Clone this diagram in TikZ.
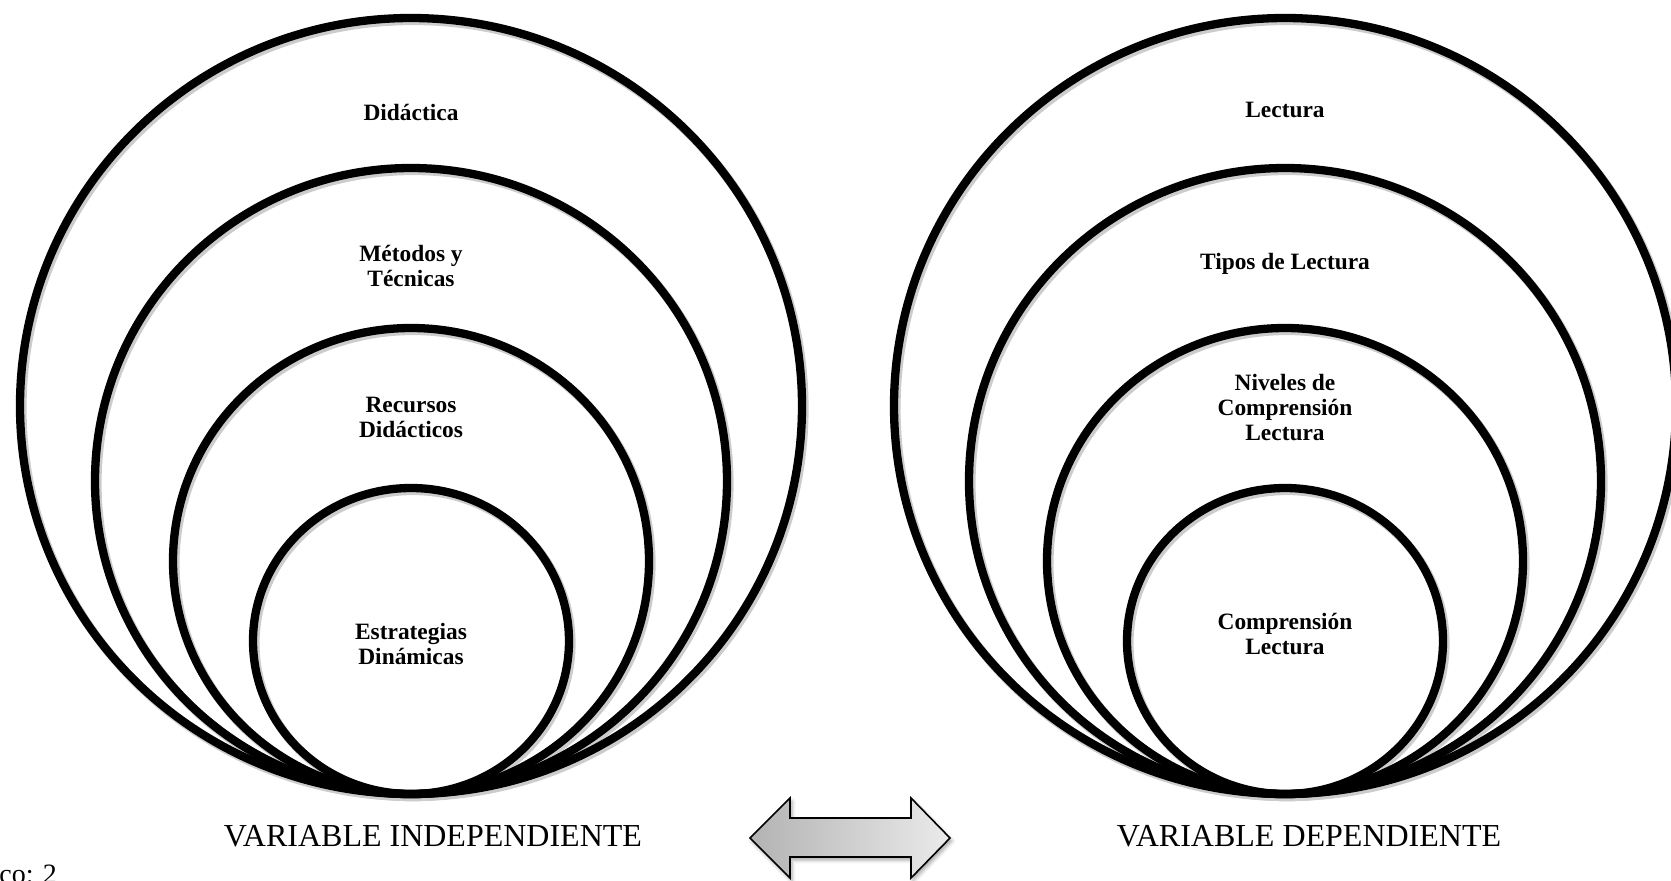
\documentclass[tikz,border=0pt]{standalone}
\usepackage{fontspec}
\setmainfont{Liberation Serif}
\usetikzlibrary{shadows.blur}
\tikzset{
  ring/.style={line width=4.15pt, draw=black},
  ringshadow/.style={line width=4.6pt, draw=black!20},
  lbl/.style={font=\bfseries\fontsize{11.7}{12.5}\selectfont, align=center, inner sep=0pt},
  varlbl/.style={font=\fontsize{16}{18}\selectfont, inner sep=0pt},
  dblarrow/.style={draw=black, line width=0.8pt, line join=miter, left color=black!30, right color=black!8,
    blur shadow={shadow xshift=1pt, shadow yshift=-1.5pt, shadow opacity=35}}
}
\begin{document}
\begin{tikzpicture}[x=0.5pt, y=-0.5pt]
\useasboundingbox (0,0) rectangle (1671,880);
% ellipse sets
\foreach \cx in {411,1285}{
  \foreach \rx/\ry in {391/388, 316/313, 238/233, 158/153}{
    \draw[ringshadow] (\cx+2,794-\ry+2.5) ellipse [x radius=\rx, y radius=\ry];
  }
  \foreach \rx/\ry in {391/388, 316/313, 238/233, 158/153}{
    \draw[ring] (\cx,794-\ry) ellipse [x radius=\rx, y radius=\ry];
  }
}
% labels left
\node[lbl] (l1) at (411,112) {Didáctica};
\node[lbl] (l2) at (411,266) {Métodos y\\Técnicas};
\node[lbl] (l3) at (411,417) {Recursos\\Didácticos};
\node[lbl] (l4) at (411,644) {Estrategias\\Dinámicas};
% labels right
\node[lbl] (r1) at (1285,110) {Lectura};
\node[lbl] (r2) at (1285,264) {Tipos de Lectura};
\node[lbl] (r3) at (1285,408) {Niveles de\\Comprensión\\Lectura};
\node[lbl] (r4) at (1285,634) {Comprensión\\Lectura};
% variable labels
\node[varlbl, anchor=base] (vi) at (433,846) {VARIABLE INDEPENDIENTE};
\node[varlbl, anchor=base] (vd) at (1309,846) {VARIABLE DEPENDIENTE};
\node[font=\fontsize{14}{16}\selectfont, inner sep=0pt, anchor=base west] (gr) at (-1,883) {co: 2};
% double arrow
\path[dblarrow] (750,838) -- (790,798) -- (790,818) -- (911,818) -- (911,798) -- (950,838)
  -- (911,878) -- (911,857) -- (790,857) -- (790,878) -- cycle;
\end{tikzpicture}
\end{document}
